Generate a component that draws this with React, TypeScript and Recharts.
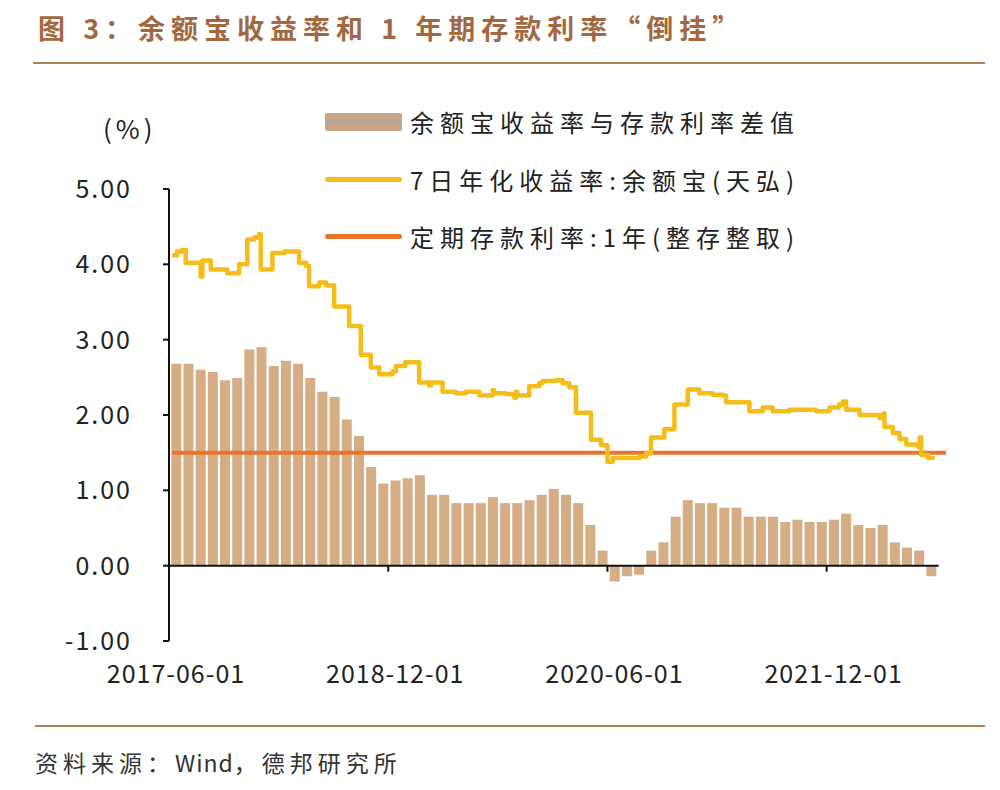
import React from "react";
import {
  ComposedChart,
  Bar,
  Line,
  XAxis,
  YAxis,
  ReferenceLine,
  Rectangle,
} from "recharts";

const FONT = '"Noto Sans CJK SC", "Noto Sans", sans-serif';

const BAR_COLOR = "#D6AD85";
const YIELD_COLOR = "#F4BD1A";
const DEPOSIT_COLOR = "#E8762A";
const BROWN = "#B08258";

// month offsets are counted from 2017-06-01
const tickMonths = [0, 18, 36, 54];
const tickLabels = ["2017-06-01", "2018-12-01", "2020-06-01", "2021-12-01"];
const yTicks = [-1, 0, 1, 2, 3, 4, 5];

// 余额宝收益率与存款利率差值, monthly from 2017-06 to 2022-08
const spreadValues = [
  2.68, 2.68, 2.6, 2.57, 2.46, 2.49, 2.87, 2.9, 2.65, 2.72, 2.68, 2.49, 2.31,
  2.24, 1.94, 1.72, 1.31, 1.09, 1.13, 1.16, 1.2, 0.94, 0.94, 0.83, 0.83, 0.83,
  0.91, 0.83, 0.83, 0.87, 0.94, 1.02, 0.94, 0.83, 0.54, 0.2, -0.21, -0.14,
  -0.12, 0.2, 0.31, 0.65, 0.87, 0.83, 0.83, 0.77, 0.77, 0.65, 0.65, 0.65, 0.58,
  0.61, 0.58, 0.58, 0.61, 0.69, 0.54, 0.5, 0.54, 0.31, 0.24, 0.2, -0.14,
];

// 7日年化收益率:余额宝(天弘), read at each visible step
const yieldMonths = [
  0.27, 0.66, 1.07, 1.37, 2.6, 2.74, 3.43, 4.79, 5.75, 6.43, 7.0, 7.4, 7.53,
  8.49, 9.5, 10.68, 11.23, 11.5, 12.33, 12.9, 13.56, 14.79, 15.75, 16.57, 17.26,
  18.35, 18.63, 19.4, 20.54, 21.36, 21.5, 22.46, 23.56, 24.38, 25.47, 26.57,
  26.7, 27.67, 28.35, 28.49, 28.6, 29.58, 30.4, 30.68, 31.77, 32.32, 32.87,
  33.42, 34.65, 35.47, 36.0, 36.43, 38.07, 38.62, 39.17, 39.58, 40.67, 41.5,
  42.6, 43.55, 44.64, 45.47, 45.74, 47.66, 48.75, 49.57, 50.95, 53.14, 54.23,
  55.0, 55.33, 55.6, 56.7, 58.34, 58.67, 58.75, 59.44, 59.99, 60.54, 61.49,
  61.63, 61.77, 62.3, 62.72,
];
const yieldValues = [
  4.12, 4.17, 4.19, 4.02, 3.84, 4.05, 3.93, 3.88, 4.0, 4.33, 4.36, 4.4, 3.93,
  4.15, 4.17, 4.02, 3.98, 3.71, 3.76, 3.72, 3.44, 3.18, 2.8, 2.63, 2.54, 2.58,
  2.65, 2.7, 2.43, 2.39, 2.43, 2.31, 2.29, 2.31, 2.26, 2.33, 2.29, 2.28, 2.23,
  2.31, 2.26, 2.38, 2.42, 2.45, 2.46, 2.42, 2.37, 2.03, 1.67, 1.6, 1.38, 1.43,
  1.43, 1.45, 1.49, 1.7, 1.81, 2.14, 2.34, 2.29, 2.27, 2.26, 2.17, 2.05, 2.1,
  2.05, 2.07, 2.05, 2.1, 2.14, 2.18, 2.07, 2.0, 1.96, 2.02, 1.84, 1.76, 1.68,
  1.61, 1.58, 1.7, 1.47, 1.43, 1.41,
];

// 定期存款利率:1年(整存整取)
const depositMonths = [0.25, 63.8];
const depositValues = [1.5, 1.5];

const SERIES = [
  { key: "spread", name: "余额宝收益率与存款利率差值", color: BAR_COLOR, bar: true },
  { key: "yield", name: "7日年化收益率:余额宝(天弘)", color: YIELD_COLOR },
  { key: "deposit", name: "定期存款利率:1年(整存整取)", color: DEPOSIT_COLOR },
];

function buildRows() {
  const rows: any[] = [];
  spreadValues.forEach((v, i) => rows.push({ t: i + 0.6, spread: v }));
  yieldMonths.forEach((t, i) => rows.push({ t, yield: yieldValues[i] }));
  depositMonths.forEach((t, i) => rows.push({ t, deposit: depositValues[i] }));
  return rows.sort((a, b) => a.t - b.t);
}

function LegendBox() {
  return (
    <div
      style={{ position: "absolute", left: 325, top: 93, fontFamily: FONT }}
    >
      {SERIES.map((s) => (
        <div
          key={s.key}
          style={{ display: "flex", alignItems: "center", height: 57.5 }}
        >
          {s.bar ? (
            <div
              style={{
                width: 77,
                height: 18,
                background: "#C9A586",
                borderRadius: 2,
                display: "flex",
                alignItems: "center",
              }}
            >
              <div style={{ width: "100%", height: 4, background: "#B0A69E" }} />
            </div>
          ) : (
            <div
              style={{
                width: 77,
                height: 5,
                borderRadius: 3,
                background: s.color,
              }}
            />
          )}
          <span
            style={{
              marginLeft: 8,
              fontSize: 24,
              letterSpacing: 6,
              color: "#222",
              whiteSpace: "nowrap",
            }}
          >
            {s.name}
          </span>
        </div>
      ))}
    </div>
  );
}

// fixed-width bar drawn on the centre the library computes for each month
function SpreadBar(props: any) {
  if (props.payload?.spread == null) return <g />;
  const cx = props.x + props.width / 2;
  return (
    <Rectangle
      x={cx - 5}
      width={10}
      y={props.y}
      height={props.height}
      fill={BAR_COLOR}
    />
  );
}

export default function App() {
  const rows = buildRows();

  return (
    <div
      style={{
        position: "absolute",
        left: 0,
        top: 0,
        width: 1000,
        height: 790,
        background: "#fff",
        fontFamily: FONT,
      }}
    >
      <div
        style={{
          position: "absolute",
          left: 38,
          top: 8,
          fontSize: 27,
          fontWeight: 700,
          letterSpacing: 6,
          color: "#A2683F",
          whiteSpace: "nowrap",
        }}
      >
        图 3：余额宝收益率和 1 年期存款利率“倒挂”
      </div>
      <div
        style={{
          position: "absolute",
          left: 33,
          top: 62,
          width: 952,
          height: 2,
          background: BROWN,
        }}
      />

      <div
        style={{
          position: "absolute",
          left: 103,
          top: 109,
          fontSize: 26,
          letterSpacing: 4,
          color: "#222",
        }}
      >
        (%)
      </div>

      <ComposedChart
        width={1000}
        height={790}
        data={rows}
        margin={{ top: 189, right: 54, bottom: 119, left: 0 }}
        style={{ position: "absolute", left: 0, top: 0 }}
      >
        <XAxis
          dataKey="t"
          type="number"
          domain={[0, 63.8]}
          ticks={tickMonths}
          tickFormatter={(v) => tickLabels[tickMonths.indexOf(v)] ?? ""}
          axisLine={false}
          tickLine={false}
          tickSize={0}
          tickMargin={24}
          height={30}
          allowDataOverflow
          tick={{ fontSize: 25, fill: "#222", dx: 7, letterSpacing: 1 }}
        />
        <YAxis
          type="number"
          domain={[-1, 5]}
          ticks={yTicks}
          width={169}
          tickFormatter={(v) => v.toFixed(2)}
          axisLine={{ stroke: "#111", strokeWidth: 2 }}
          tickLine={{ stroke: "#111", strokeWidth: 2 }}
          tickSize={6}
          tickMargin={31}
          tick={{ fontSize: 25, fill: "#222", letterSpacing: 2 }}
        />
        <Bar
          dataKey="spread"
          name={SERIES[0].name}
          fill={BAR_COLOR}
          barSize={10}
          shape={SpreadBar}
          isAnimationActive={false}
        />
        <ReferenceLine
          segment={[
            { x: 0, y: 0 },
            { x: 63.2, y: 0 },
          ]}
          stroke="#111"
          strokeWidth={2}
        />
        {tickMonths.slice(1).map((m) => (
          <ReferenceLine
            key={m}
            segment={[
              { x: m, y: 0 },
              { x: m, y: -0.08 },
            ]}
            stroke="#111"
            strokeWidth={2}
          />
        ))}
        <Line
          dataKey="deposit"
          name={SERIES[2].name}
          type="linear"
          stroke={DEPOSIT_COLOR}
          strokeWidth={4}
          dot={false}
          connectNulls
          isAnimationActive={false}
        />
        <Line
          dataKey="yield"
          name={SERIES[1].name}
          type="stepAfter"
          stroke={YIELD_COLOR}
          strokeWidth={4.5}
          strokeLinejoin="round"
          dot={false}
          connectNulls
          isAnimationActive={false}
        />
      </ComposedChart>

      <LegendBox />

      <div
        style={{
          position: "absolute",
          left: 35,
          top: 725,
          width: 950,
          height: 2,
          background: BROWN,
        }}
      />
      <div
        style={{
          position: "absolute",
          left: 35,
          top: 745,
          fontSize: 23,
          letterSpacing: 5,
          color: "#333",
          whiteSpace: "nowrap",
        }}
      >
        资料来源：<span style={{ letterSpacing: 1 }}>Wind</span>，德邦研究所
      </div>
    </div>
  );
}
